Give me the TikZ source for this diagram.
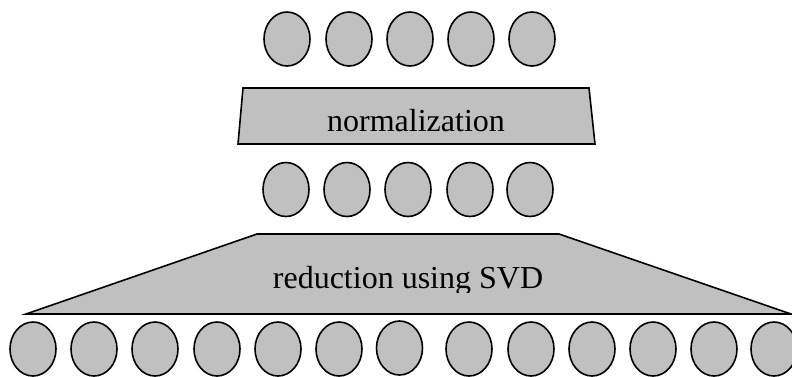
\documentclass[tikz,border=0pt]{standalone}
\usepackage{fontspec}
\setmainfont{Liberation Serif}
\usetikzlibrary{shapes.geometric}
\definecolor{unitgray}{RGB}{192,192,192}

\begin{document}
\begin{tikzpicture}[x=1pt, y=-1pt,%
% common options for the units:
unit/.style = {ellipse, draw, fill=unitgray, line width=1.6pt,
            minimum width=46pt, minimum height=54pt, inner sep=0},
% common options for the layers:
layer/.style = {draw, fill=unitgray, line width=1.6pt, line join=miter},
layertext/.style = {font=\fontsize{32}{38}\selectfont, anchor=base, inner sep=0}]
\useasboundingbox (0,0) rectangle (792,376);
% normalization layer
\draw[layer] (243,88) -- (589,88) -- (595,144) -- (238,144) -- cycle;
\node[layertext] (norm) at (416,131) {normalization};
% SVD reduction layer
\draw[layer] (257,234) -- (559,234) -- (791,314) -- (26,314) -- cycle;
\begin{scope}
\clip (26,234) rectangle (791,292.5);
\node[layertext] (svd) at (408,288) {reduction using SVD};
\end{scope}
% output units
\node[unit] (o1) at (287,39) {};
\node[unit] (o2) at (349,39) {};
\node[unit] (o3) at (410,39) {};
\node[unit] (o4) at (471,39) {};
\node[unit] (o5) at (532,39) {};
% reduced units
\node[unit] (r1) at (286,189.5) {};
\node[unit] (r2) at (347,189.5) {};
\node[unit] (r3) at (408,189.5) {};
\node[unit] (r4) at (470,189.5) {};
\node[unit] (r5) at (530,189.5) {};
% input units
\node[unit] (i1) at (33,349) {};
\node[unit] (i2) at (94,349) {};
\node[unit] (i3) at (155,349) {};
\node[unit] (i4) at (217,349) {};
\node[unit] (i5) at (278,349) {};
\node[unit] (i6) at (339,349) {};
\node[unit] (i7) at (399.5,348) {};
\node[unit] (i8) at (469,349) {};
\node[unit] (i9) at (531,349) {};
\node[unit] (i10) at (592,349) {};
\node[unit] (i11) at (653,349) {};
\node[unit] (i12) at (714,349) {};
\node[unit] (i13) at (774,349) {};
\end{tikzpicture}
\end{document}
